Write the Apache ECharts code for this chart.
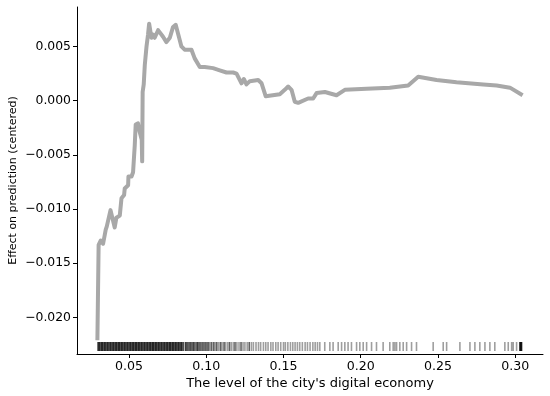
<!DOCTYPE html>
<html>
<head>
<meta charset="utf-8">
<script src="https://cdn.jsdelivr.net/npm/echarts@6/dist/echarts.min.js"></script>
<style>
  html, body { margin: 0; padding: 0; background: #fff; }
  #chart { width: 550px; height: 396px; }
</style>
</head>
<body>
<div id="chart"></div>
<script>
  // partial dependence curve
  const lineX = [0.0295, 0.0303, 0.0317, 0.0332, 0.0349, 0.0356, 0.0380, 0.0392, 0.0407, 0.0418,
    0.0440, 0.0451, 0.0468, 0.0472, 0.0494, 0.0496, 0.0516, 0.0526, 0.0537, 0.0543,
    0.0558, 0.0569, 0.0582, 0.0585, 0.0588, 0.0595, 0.0602, 0.0613, 0.0623, 0.0630,
    0.0634, 0.0645, 0.0655, 0.0666, 0.0688, 0.0699, 0.0720, 0.0742, 0.0764, 0.0785,
    0.0802, 0.0817, 0.0839, 0.0860, 0.0904, 0.0925, 0.0958, 0.0990, 0.1044, 0.1087,
    0.1131, 0.1174, 0.1196, 0.1228, 0.1243, 0.1260, 0.1282, 0.1336, 0.1358, 0.1385,
    0.1476, 0.1508, 0.1530, 0.1552, 0.1573, 0.1595, 0.1659, 0.1692, 0.1714, 0.1768,
    0.1843, 0.1897, 0.2038, 0.2188, 0.2307, 0.2372, 0.2491, 0.2620, 0.2793, 0.2880,
    0.2966, 0.3048];
  const lineY = [-0.0221, -0.0133, -0.0129, -0.0132, -0.0119, -0.0116, -0.0101, -0.0101, -0.0117, -0.0108,
    -0.0106, -0.0090, -0.0087, -0.0081, -0.0078, -0.0070, -0.0070, -0.0066, -0.0041, -0.0022,
    -0.0021, -0.0029, -0.0036, -0.0056, 0.0008, 0.0015, 0.0033, 0.0050, 0.0061, 0.0071,
    0.0070, 0.0058, 0.0061, 0.0058, 0.0065, 0.0063, 0.0059, 0.0054, 0.0058, 0.0068,
    0.0070, 0.0062, 0.0050, 0.0047, 0.0047, 0.0039, 0.0031, 0.0031, 0.0030, 0.0028,
    0.0026, 0.0026, 0.0025, 0.0016, 0.0020, 0.0015, 0.0018, 0.0019, 0.0016, 0.0004,
    0.0006, 0.0010, 0.0013, 0.0010, -0.0001, -0.0002, 0.0002, 0.0002, 0.0007, 0.0008,
    0.0005, 0.0010, 0.0011, 0.0012, 0.0014, 0.0022, 0.0019, 0.0017, 0.0015, 0.0014,
    0.0012, 0.0005];

  // rug: observed x positions and how many observations sit at each
  const rugX = [0.030, 0.031, 0.032, 0.033, 0.034, 0.035, 0.036, 0.037, 0.038, 0.039,
    0.040, 0.041, 0.042, 0.043, 0.044, 0.045, 0.046, 0.047, 0.048, 0.049,
    0.050, 0.051, 0.052, 0.053, 0.054, 0.055, 0.056, 0.057, 0.058, 0.059,
    0.060, 0.061, 0.062, 0.063, 0.064, 0.065, 0.066, 0.067, 0.068, 0.069,
    0.070, 0.071, 0.072, 0.073, 0.074, 0.075, 0.076, 0.077, 0.078, 0.079,
    0.080, 0.081, 0.082, 0.083, 0.084, 0.085,
    0.0865, 0.0875, 0.0885, 0.0895, 0.0905, 0.0915, 0.0925, 0.0935, 0.0945, 0.0955,
    0.0965, 0.0975, 0.0985, 0.0995,
    0.1005, 0.1015, 0.1025, 0.1035, 0.1048, 0.1058, 0.1068, 0.1080, 0.1092, 0.1102,
    0.1115, 0.1125, 0.1138, 0.1150, 0.1162, 0.1175, 0.1186, 0.1198, 0.1212, 0.1225,
    0.1238, 0.1250, 0.1265, 0.1278, 0.1292,
    0.1305, 0.1322, 0.1338, 0.1352, 0.1370, 0.1385, 0.1400, 0.1418, 0.1432, 0.1450,
    0.1465, 0.1482, 0.1500, 0.1512, 0.1528, 0.1545, 0.1560, 0.1575, 0.1590, 0.1605,
    0.1622, 0.1640, 0.1655, 0.1672, 0.1690, 0.1705, 0.1720,
    0.1735, 0.1767, 0.1800, 0.1821, 0.1854, 0.1876, 0.1897, 0.1918, 0.1940, 0.1973,
    0.1994, 0.2016, 0.2038, 0.2070, 0.2102, 0.2145, 0.2188, 0.2210, 0.2221, 0.2232,
    0.2253, 0.2275, 0.2297, 0.2329, 0.2361, 0.2469, 0.2534, 0.2556, 0.2642, 0.2707,
    0.2739, 0.2771, 0.2804, 0.2836, 0.2868, 0.2933, 0.2955, 0.2977, 0.2987, 0.3009,
    0.3030, 0.3036, 0.3041];
  const rugN = [4, 4, 4, 4, 4, 4, 4, 4, 4, 4,
    4, 4, 4, 4, 4, 4, 4, 4, 4, 4,
    4, 4, 4, 4, 4, 4, 4, 4, 4, 4,
    4, 4, 4, 4, 4, 4, 4, 4, 4, 4,
    4, 4, 4, 4, 4, 4, 4, 4, 4, 4,
    4, 4, 4, 4, 4, 3,
    3, 3, 2, 3, 2, 3, 2, 2, 3, 2,
    2, 2, 2, 2,
    2, 2, 1, 2, 2, 1, 2, 1, 2, 1,
    2, 1, 1, 2, 1, 1, 2, 1, 1, 2,
    1, 1, 1, 2, 1,
    1, 1, 1, 1, 1, 1, 1, 1, 1, 1,
    1, 1, 1, 1, 1, 1, 1, 1, 1, 1,
    1, 1, 1, 1, 1, 1, 1,
    1, 1, 1, 1, 1, 1, 1, 1, 1, 1,
    1, 1, 1, 1, 1, 1, 1, 1, 1, 1,
    1, 1, 1, 1, 1, 1, 1, 1, 1, 1,
    1, 1, 1, 1, 1, 1, 1, 1, 1, 1,
    3, 4, 4];

  const xTicks = [0.05, 0.10, 0.15, 0.20, 0.25, 0.30];
  const yTicks = [-0.020, -0.015, -0.010, -0.005, 0.000, 0.005];

  const X_MIN = 0.0163, X_MAX = 0.318;
  const Y_MIN = -0.02337, Y_MAX = 0.00864;
  const FONT = 'DejaVu Sans';

  const minus = (s) => s.replace('-', '\u2212');

  const chart = echarts.init(document.getElementById('chart'), null, { renderer: 'canvas' });

  chart.setOption({
    animation: false,
    backgroundColor: '#fff',
    grid: { left: 77, right: 7, top: 7, bottom: 42, outerBoundsMode: 'none', containLabel: false },
    xAxis: {
      type: 'value',
      min: X_MIN,
      max: X_MAX,
      name: "The level of the city's digital economy",
      nameLocation: 'middle',
      nameGap: 23,
      nameMoveOverlap: false,
      nameTextStyle: { fontFamily: FONT, fontSize: 13, color: '#000' },
      axisLine: { onZero: false, lineStyle: { color: '#000', width: 1 } },
      axisTick: { customValues: xTicks, length: 4, lineStyle: { color: '#000' } },
      axisLabel: {
        customValues: xTicks,
        margin: 6,
        fontFamily: FONT,
        fontSize: 12.6,
        color: '#000',
        formatter: (v) => v.toFixed(2),
      },
      splitLine: { show: false },
    },
    yAxis: {
      type: 'value',
      min: Y_MIN,
      max: Y_MAX,
      name: 'Effect on prediction (centered)',
      nameLocation: 'middle',
      nameGap: 58,
      nameMoveOverlap: false,
      nameTextStyle: { fontFamily: FONT, fontSize: 11, color: '#000' },
      axisLine: { onZero: false, lineStyle: { color: '#000', width: 1 } },
      axisTick: { customValues: yTicks, length: 4, lineStyle: { color: '#000' } },
      axisLabel: {
        customValues: yTicks,
        margin: 6,
        fontFamily: FONT,
        fontSize: 12.4,
        color: '#000',
        formatter: (v) => minus(v.toFixed(3)),
      },
      splitLine: { show: false },
    },
    series: [
      {
        type: 'custom',
        name: 'rug',
        data: rugX.map((x, i) => [x, rugN[i]]),
        encode: { x: 0 },
        z: 1,
        renderItem: function (params, api) {
          const p = api.coord([api.value(0), Y_MIN]);
          const n = api.value(1);
          return {
            type: 'line',
            shape: { x1: p[0], y1: p[1] - 3, x2: p[0], y2: p[1] - 12 },
            style: { stroke: '#000', lineWidth: 1.6, opacity: 1 - Math.pow(0.62, n) },
          };
        },
      },
      {
        type: 'line',
        name: 'pd',
        data: lineX.map((x, i) => [x, lineY[i]]),
        showSymbol: false,
        symbol: 'none',
        z: 2,
        lineStyle: { color: '#a8a8a8', width: 4, join: 'round' },
      },
    ],
  });
</script>
</body>
</html>
